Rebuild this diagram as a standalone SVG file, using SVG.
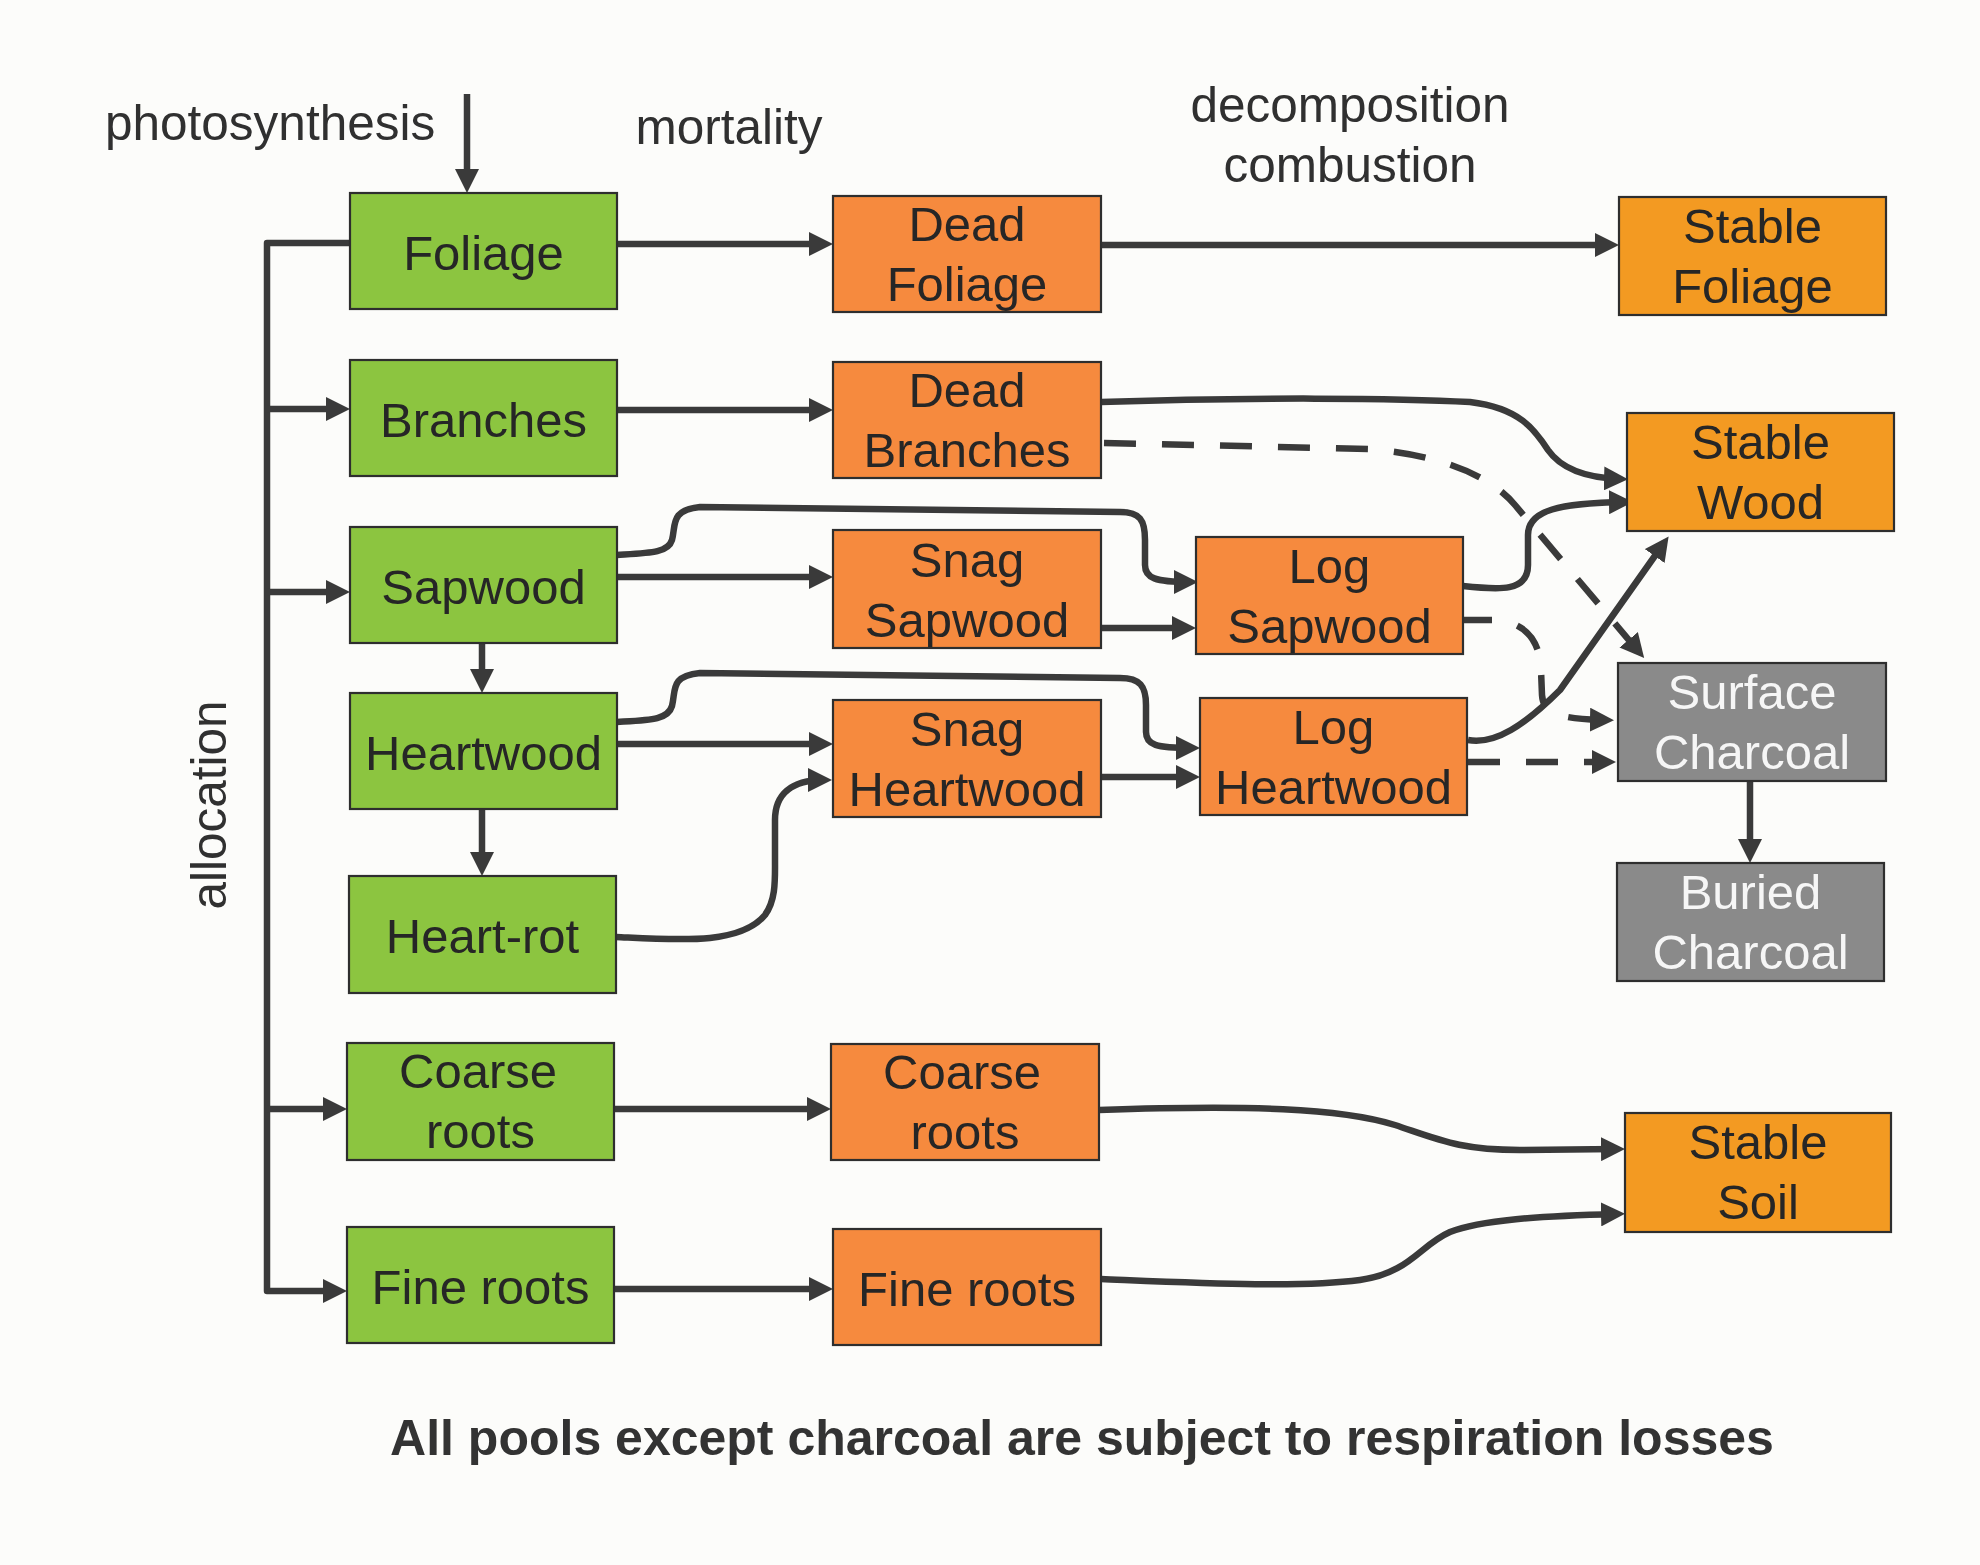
<svg xmlns="http://www.w3.org/2000/svg" width="1980" height="1565" viewBox="0 0 1980 1565">
<style>
.box{stroke:#2e2e2e;stroke-width:2.2}
.g{fill:#8cc540}
.o{fill:#f68a3e}
.s{fill:#f39a22}
.c{fill:#8a8a8a}
.lbl{font-family:"Liberation Sans",Arial,sans-serif;font-size:49px;fill:#262626;text-anchor:middle}
.wl{fill:#f6f6f6}
.hdr{font-family:"Liberation Sans",Arial,sans-serif;font-size:49.5px;fill:#303030}
.ln{fill:none;stroke:#3a3a3a;stroke-width:6.5;stroke-linejoin:round}
.ar{marker-end:url(#ah)}
.d{stroke-dasharray:32 26}
</style>
<defs>
<marker id="ah" markerUnits="userSpaceOnUse" markerWidth="24" markerHeight="24" refX="16" refY="12" orient="auto" viewBox="0 0 24 24">
<path d="M0,0 L24,12 L0,24 z" fill="#3a3a3a"/>
</marker>
</defs>
<rect x="0" y="0" width="1980" height="1565" fill="#fcfcfa"/>

<g id="labels">
<text class="hdr" x="105" y="140">photosynthesis</text>
<text class="hdr" x="729" y="144" text-anchor="middle">mortality</text>
<text class="hdr" x="1350" y="122" text-anchor="middle">decomposition</text>
<text class="hdr" x="1350" y="182" text-anchor="middle">combustion</text>
<text class="hdr" transform="translate(226,805) rotate(-90)" text-anchor="middle">allocation</text>
<text x="1082" y="1455" text-anchor="middle" style="font-family:'Liberation Sans',Arial,sans-serif;font-size:50px;font-weight:bold;fill:#333">All pools except charcoal are subject to respiration losses</text>
</g>

<g id="connectors">
<path class="ln ar" d="M467,94 V185"/>
<path class="ln ar" d="M350,243 H267 V1291 H339"/>
<path class="ln ar" d="M267,409 H342"/>
<path class="ln ar" d="M267,592 H342"/>
<path class="ln ar" d="M267,1109 H339"/>
<path class="ln ar" d="M482,643 V685"/>
<path class="ln ar" d="M482,810 V868"/>
<path class="ln ar" d="M617,244 H825"/>
<path class="ln ar" d="M1101,245 H1611"/>
<path class="ln ar" d="M617,410 H825"/>
<path class="ln ar" d="M617,577 H825"/>
<path class="ln ar" d="M617,744 H825"/>
<path class="ln ar" d="M616,937 C680,940 740,945 765,915 C776,900 775,880 775,860 L775,820 C775,795 790,780 824,780"/>
<path class="ln ar" d="M617,555 C650,553 668,553 672,540 C676,525 670,510 700,507 L1120,512 C1140,512 1145,520 1145,540 L1145,565 C1145,578 1155,582 1190,582"/>
<path class="ln ar" d="M1101,628 H1188"/>
<path class="ln ar" d="M617,722 C650,720 668,720 672,706 C676,690 670,676 700,673 L1120,678 C1140,678 1146,686 1146,705 L1146,732 C1146,745 1156,748 1192,748"/>
<path class="ln ar" d="M1101,777 H1192"/>
<path class="ln ar" d="M1101,402 C1250,397 1400,398 1470,402 C1520,408 1535,430 1548,450 C1562,470 1590,478 1620,479"/>
<path class="ln ar d" d="M1104,443 L1370,449 C1440,455 1490,475 1515,505 L1639,652"/>
<path class="ln ar" d="M1463,586 C1500,590 1528,592 1528,565 L1528,535 C1528,510 1560,503 1625,502"/>
<path class="ln ar d" d="M1460,620 L1495,620 C1525,622 1540,640 1541,670 L1542,695 C1543,712 1555,719 1606,720"/>
<path class="ln ar" d="M1468,740 C1495,745 1525,725 1560,690 L1664,543"/>
<path class="ln ar d" d="M1468,762 H1608"/>
<path class="ln ar" d="M1750,781 V855"/>
<path class="ln ar" d="M614,1109 H823"/>
<path class="ln ar" d="M614,1289 H825"/>
<path class="ln ar" d="M1099,1110 C1250,1105 1340,1108 1395,1125 C1440,1140 1460,1150 1520,1150 L1617,1149"/>
<path class="ln ar" d="M1101,1279 C1200,1283 1300,1288 1360,1280 C1410,1273 1420,1245 1450,1232 C1480,1220 1540,1216 1617,1214"/>
</g>

<g id="foliage"><rect class="box g" x="350" y="193" width="267" height="116"/><text class="lbl" x="483.5" y="270">Foliage</text></g>
<g id="branches"><rect class="box g" x="350" y="360" width="267" height="116"/><text class="lbl" x="483.5" y="437">Branches</text></g>
<g id="sapwood"><rect class="box g" x="350" y="527" width="267" height="116"/><text class="lbl" x="483.5" y="604">Sapwood</text></g>
<g id="heartwood"><rect class="box g" x="350" y="693" width="267" height="116"/><text class="lbl" x="483.5" y="770">Heartwood</text></g>
<g id="heart-rot"><rect class="box g" x="349" y="876" width="267" height="117"/><text class="lbl" x="482.5" y="953">Heart-rot</text></g>
<g id="coarse-roots"><rect class="box g" x="347" y="1043" width="267" height="117"/><text class="lbl" x="478" y="1088">Coarse</text><text class="lbl" x="480.5" y="1148">roots</text></g>
<g id="fine-roots"><rect class="box g" x="347" y="1227" width="267" height="116"/><text class="lbl" x="480.5" y="1304">Fine roots</text></g>

<g id="dead-foliage"><rect class="box o" x="833" y="196" width="268" height="116"/><text class="lbl" x="967" y="241">Dead</text><text class="lbl" x="967" y="301">Foliage</text></g>
<g id="dead-branches"><rect class="box o" x="833" y="362" width="268" height="116"/><text class="lbl" x="967" y="407">Dead</text><text class="lbl" x="967" y="467">Branches</text></g>
<g id="snag-sapwood"><rect class="box o" x="833" y="530" width="268" height="118"/><text class="lbl" x="967" y="577">Snag</text><text class="lbl" x="967" y="637">Sapwood</text></g>
<g id="snag-heartwood"><rect class="box o" x="833" y="700" width="268" height="117"/><text class="lbl" x="967" y="746">Snag</text><text class="lbl" x="967" y="806">Heartwood</text></g>
<g id="dead-coarse-roots"><rect class="box o" x="831" y="1044" width="268" height="116"/><text class="lbl" x="962" y="1089">Coarse</text><text class="lbl" x="965" y="1149">roots</text></g>
<g id="dead-fine-roots"><rect class="box o" x="833" y="1229" width="268" height="116"/><text class="lbl" x="967" y="1306">Fine roots</text></g>

<g id="log-sapwood"><rect class="box o" x="1196" y="537" width="267" height="117"/><text class="lbl" x="1329.5" y="583">Log</text><text class="lbl" x="1329.5" y="643">Sapwood</text></g>
<g id="log-heartwood"><rect class="box o" x="1200" y="698" width="267" height="117"/><text class="lbl" x="1333.5" y="744">Log</text><text class="lbl" x="1333.5" y="804">Heartwood</text></g>

<g id="stable-foliage"><rect class="box s" x="1619" y="197" width="267" height="118"/><text class="lbl" x="1752.5" y="243">Stable</text><text class="lbl" x="1752.5" y="303">Foliage</text></g>
<g id="stable-wood"><rect class="box s" x="1627" y="413" width="267" height="118"/><text class="lbl" x="1760.5" y="459">Stable</text><text class="lbl" x="1760.5" y="519">Wood</text></g>
<g id="surface-charcoal"><rect class="box c" x="1618" y="663" width="268" height="118"/><text class="lbl wl" x="1752" y="709">Surface</text><text class="lbl wl" x="1752" y="769">Charcoal</text></g>
<g id="buried-charcoal"><rect class="box c" x="1617" y="863" width="267" height="118"/><text class="lbl wl" x="1750.5" y="909">Buried</text><text class="lbl wl" x="1750.5" y="969">Charcoal</text></g>
<g id="stable-soil"><rect class="box s" x="1625" y="1113" width="266" height="119"/><text class="lbl" x="1758" y="1159">Stable</text><text class="lbl" x="1758" y="1219">Soil</text></g>
</svg>
